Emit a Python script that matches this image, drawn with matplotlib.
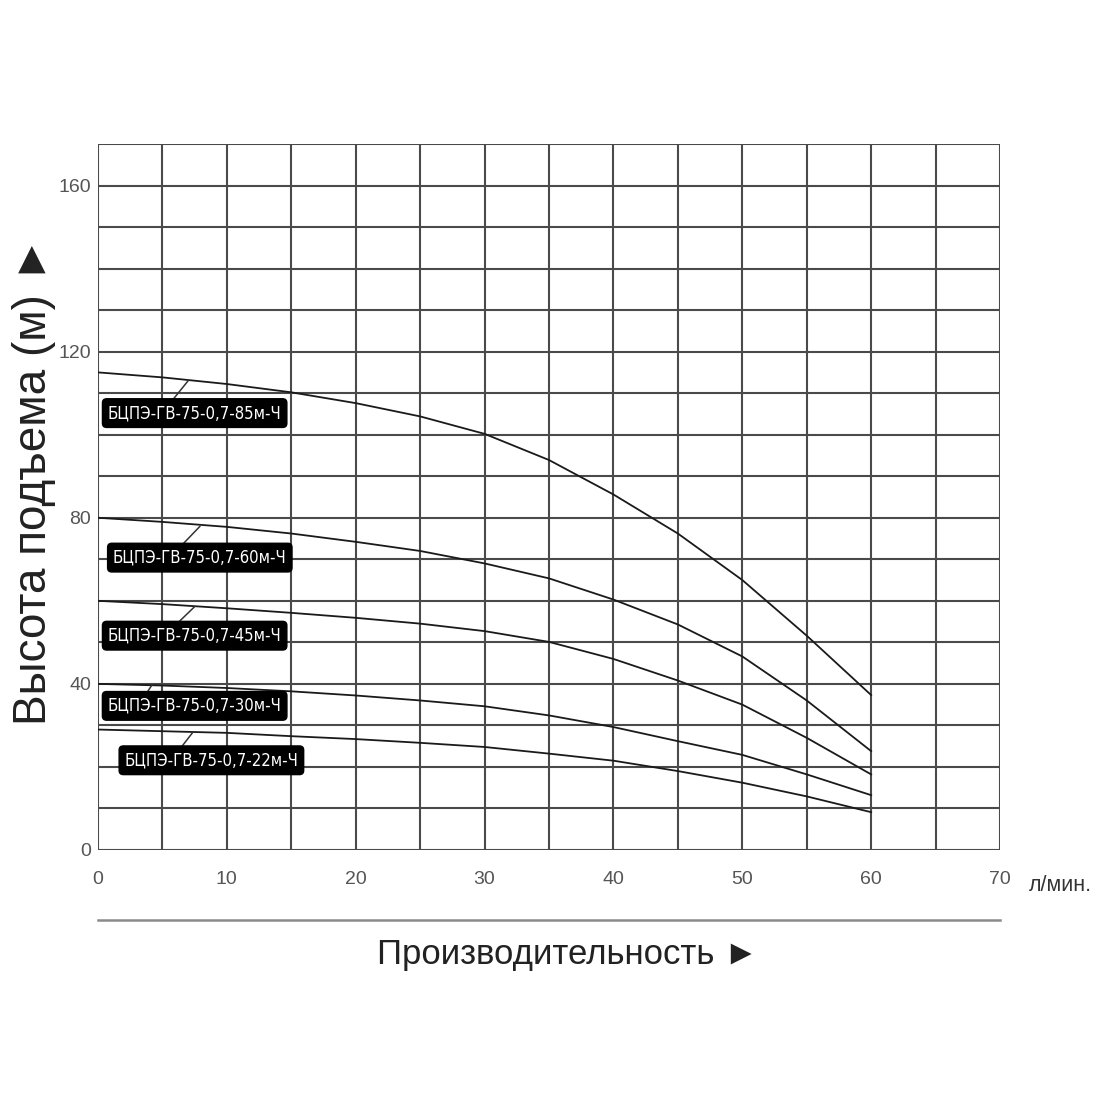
import numpy as np
import matplotlib.pyplot as plt

# Flow rate, l/min
flow = [0, 5, 10, 15, 20, 25, 30, 35, 40, 45, 50, 55, 60]

# Head (m) for each pump model
head_85 = [115, 113.8, 112.2, 110.2, 107.6, 104.4, 100.2, 93.9, 85.6, 76.2, 65.0, 51.6, 37.3]
head_60 = [80, 79, 77.8, 76.2, 74.2, 72, 69, 65.4, 60.3, 54.3, 46.6, 36, 23.8]
head_45 = [60, 59.2, 58.2, 57.1, 55.9, 54.5, 52.7, 50.1, 46, 40.8, 35, 27, 18.2]
head_30 = [40, 39.6, 39, 38.2, 37.2, 36, 34.6, 32.4, 29.6, 26.2, 22.9, 18.2, 13.2]
head_22 = [29, 28.6, 28.2, 27.4, 26.7, 25.8, 24.8, 23.2, 21.5, 19, 16.2, 12.9, 9.1]

models = ["БЦПЭ-ГВ-75-0,7-85м-Ч", "БЦПЭ-ГВ-75-0,7-60м-Ч", "БЦПЭ-ГВ-75-0,7-45м-Ч",
          "БЦПЭ-ГВ-75-0,7-30м-Ч", "БЦПЭ-ГВ-75-0,7-22м-Ч"]
heads = [head_85, head_60, head_45, head_30, head_22]

x_ticks = [0, 10, 20, 30, 40, 50, 60, 70]
y_ticks = [0, 40, 80, 120, 160]

# label box centre and leader line (start, end) in data units
label_pos = [(7.5, 105.2), (7.9, 70.4), (7.5, 51.6), (7.5, 34.7), (8.8, 21.6)]
leaders = [((5.8, 108.4), (7.0, 113.0)),
           ((6.6, 73.7), (7.9, 77.9)),
           ((6.2, 54.7), (7.5, 58.6)),
           ((3.8, 37.9), (4.2, 39.8)),
           ((6.5, 24.9), (7.3, 28.1))]

plt.rcParams['font.family'] = ['Liberation Sans', 'DejaVu Sans']

fig = plt.figure(figsize=(11, 11), dpi=100)
ax = fig.add_axes([0.0891, 0.2273, 0.8200, 0.6418])

ax.set_xlim(0, 70)
ax.set_ylim(0, 170)

# grid
grid_c = "#4a4a4a"
for gx in np.arange(0, 71, 5):
    ax.axvline(gx, color=grid_c, lw=1.5, zorder=1)
for gy in np.arange(0, 171, 10):
    ax.axhline(gy, color=grid_c, lw=1.5, zorder=1)

for s in ax.spines.values():
    s.set_visible(False)

# curves
for h in heads:
    ax.plot(flow, h, color="#1a1a1a", lw=1.3, zorder=3)

# labels
for name, (lx, ly), (p0, p1) in zip(models, label_pos, leaders):
    ax.plot([p0[0], p1[0]], [p0[1], p1[1]], color="#333333", lw=1.1, zorder=3)
    ax.text(lx, ly, name, color="white", fontsize=12, ha="center", va="center",
            family="DejaVu Sans", fontstretch="condensed",
            zorder=4,
            bbox=dict(boxstyle="round,pad=0.32,rounding_size=0.25", fc="black", ec="black"))

ax.set_xticks(x_ticks)
ax.set_yticks(y_ticks)
ax.tick_params(length=0, labelsize=14, labelcolor="#555555")
ax.tick_params(axis="y", pad=5)
ax.tick_params(axis="x", pad=15)

# unit label and separator
fig.text(0.935, 0.195, "л/мин.", fontsize=15.5, color="#333333", ha="left", va="center")
fig.add_artist(plt.Line2D([0.0891, 0.9091], [0.164, 0.164], color="#8a8a8a", lw=1.8))

fig.text(0.516, 0.132, "Производительность ►", fontsize=25, color="#222222",
         ha="center", va="center")
fig.text(0.031, 0.5636, "Высота подъема (м) ►", fontsize=33, color="#222222",
         ha="center", va="center", rotation=90)

fig.savefig("out.png", dpi=100, facecolor="white")
